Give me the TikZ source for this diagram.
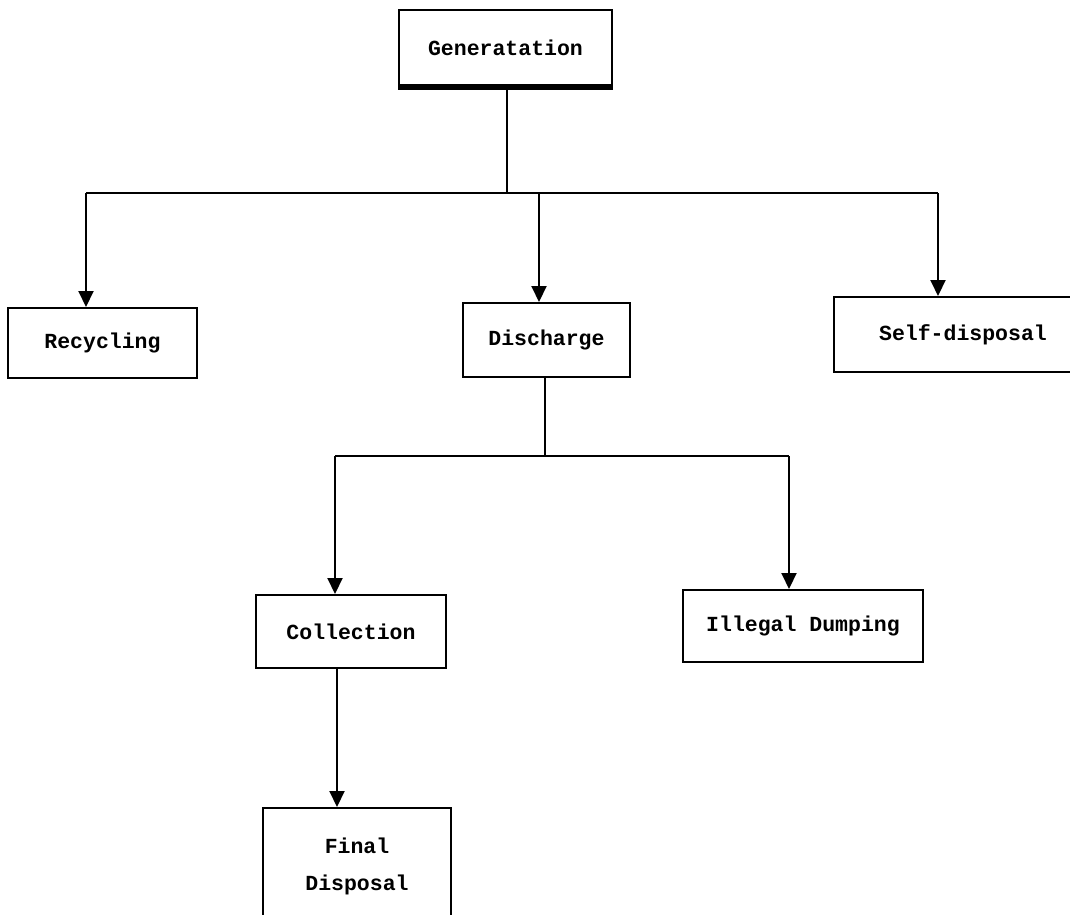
\documentclass[tikz,border=0pt]{standalone}
\usepackage{fontspec}
\setmainfont{Liberation Mono}
\usetikzlibrary{arrows.meta}
\begin{document}
\begin{tikzpicture}[x=1pt,y=-1pt,
  box/.style={draw, line width=2pt, inner sep=0pt, align=center,
    font=\fontsize{21.5}{37}\selectfont\bfseries},
  link/.style={line width=2pt},
  arr/.style={line width=2pt, -{Triangle[width=15pt,length=16pt]}}]
\useasboundingbox (0,0) rectangle (1070,914);

% boxes
\node[box, minimum width=213pt, minimum height=75pt] (gen) at (505.5,47.5) {Generatation};
\draw[line width=4pt] ([yshift=-2pt]gen.south west) -- ([yshift=-2pt]gen.south east);
\node[box, minimum width=189pt, minimum height=70pt] (rec) at (102.5,343) {Recycling};
\node[box, minimum width=167pt, minimum height=74pt] (dis) at (546.5,340) {Discharge};
\node[box, minimum width=251pt, minimum height=75pt] (self) at (959.5,334.5) {\hspace*{7pt}Self-disposal};
\node[box, minimum width=190pt, minimum height=73pt] (col) at (351,631.5) {Collection};
\node[box, minimum width=240pt, minimum height=72pt] (ill) at (803,626) {Illegal Dumping};
\node[box, minimum width=188pt, minimum height=116pt] (fin) at (357,866) {Final\\Disposal};

% first level branches
\coordinate (j1) at (507,193);
\coordinate (b1) at (86,193);
\coordinate (b2) at (539,193);
\coordinate (b3) at (938,193);
\draw[link] (gen.south -| j1) -- (j1);
\draw[link] (b1) -- (b3);
\draw[arr] (b1) -- (b1 |- rec.north);
\draw[arr] (b2) -- (b2 |- dis.north);
\draw[arr] (b3) -- (b3 |- self.north);

% second level branches
\coordinate (j2) at (545,456);
\coordinate (c1) at (335,456);
\coordinate (c2) at (789,456);
\draw[link] (dis.south -| j2) -- (j2);
\draw[link] (c1) -- (c2);
\draw[arr] (c1) -- (c1 |- col.north);
\draw[arr] (c2) -- (c2 |- ill.north);

% collection to final disposal
\coordinate (d1) at (337,669);
\draw[arr] (col.south -| d1) -- (d1 |- fin.north);
\end{tikzpicture}
\end{document}
